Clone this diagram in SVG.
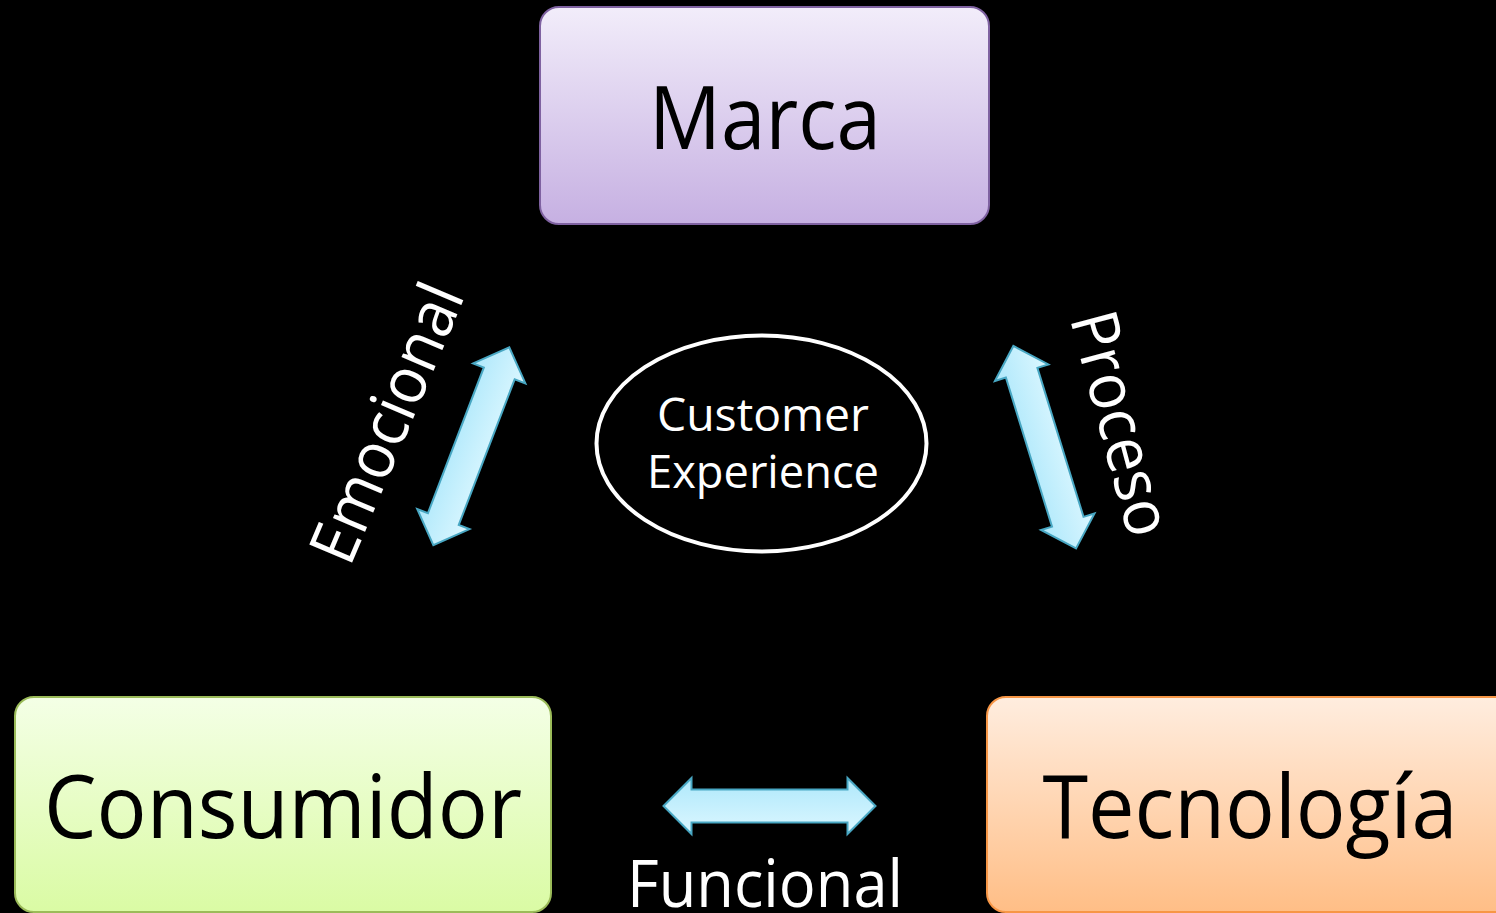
<svg xmlns="http://www.w3.org/2000/svg" width="1496" height="913" viewBox="0 0 1496 913">
  <defs>
    <linearGradient id="gPurple" x1="0" y1="0" x2="0" y2="1">
      <stop offset="0" stop-color="#f2edfa"/>
      <stop offset="1" stop-color="#c6b0e2"/>
    </linearGradient>
    <linearGradient id="gGreen" x1="0" y1="0" x2="0" y2="1">
      <stop offset="0" stop-color="#f4ffe6"/>
      <stop offset="1" stop-color="#dafba4"/>
    </linearGradient>
    <linearGradient id="gOrange" x1="0" y1="0" x2="0" y2="1">
      <stop offset="0" stop-color="#ffeddf"/>
      <stop offset="1" stop-color="#ffbe86"/>
    </linearGradient>
    <linearGradient id="gArrow" x1="0" y1="0" x2="0" y2="1">
      <stop offset="0" stop-color="#aee8fb"/>
      <stop offset="1" stop-color="#dcf7ff"/>
    </linearGradient>
    <path id="dblArrow" d="M -106 0 L -78 -28 L -78 -16.5 L 78 -16.5 L 78 -28 L 106 0 L 78 28 L 78 16.5 L -78 16.5 L -78 28 Z"/>
  </defs>
  <style>
    .box { stroke-width: 2; }
    .big { font-family: "Open Sans", "Noto Sans", sans-serif; font-size: 88px; fill: #000; text-anchor: middle; }
    .lbl { font-family: "Open Sans", "Noto Sans", sans-serif; font-size: 65px; fill: #fff; }
    .cx { font-family: "Open Sans", "Noto Sans", sans-serif; font-size: 46px; fill: #fff; text-anchor: middle; }
    .arr { fill: url(#gArrow); stroke: #48a7c3; stroke-width: 2; stroke-linejoin: miter; }
  </style>
  <rect x="0" y="0" width="1496" height="913" fill="#000"/>

  <g id="marca">
    <rect class="box" x="540" y="7" width="449" height="217" rx="19" fill="url(#gPurple)" stroke="#7f62a1"/>
    <text class="big" x="765" y="149" textLength="232" lengthAdjust="spacingAndGlyphs">Marca</text>
  </g>

  <g id="consumidor">
    <rect class="box" x="15" y="697" width="536" height="215" rx="19" fill="url(#gGreen)" stroke="#9bbb59"/>
    <text class="big" x="283" y="838" textLength="478" lengthAdjust="spacingAndGlyphs">Consumidor</text>
  </g>

  <g id="tecnologia">
    <rect class="box" x="987" y="697" width="536" height="215" rx="19" fill="url(#gOrange)" stroke="#f79646"/>
    <text class="big" x="1250" y="838" textLength="415" lengthAdjust="spacingAndGlyphs">Tecnología</text>
  </g>

  <g id="customer-experience">
    <ellipse cx="761.5" cy="443.5" rx="165" ry="108" fill="none" stroke="#fff" stroke-width="4"/>
    <text class="cx" x="763" y="431" textLength="212" lengthAdjust="spacingAndGlyphs">Customer</text>
    <text class="cx" x="763" y="488" textLength="232" lengthAdjust="spacingAndGlyphs">Experience</text>
  </g>

  <g id="connectors">
    <use href="#dblArrow" class="arr" transform="translate(471.3,446.2) rotate(-69)"/>
    <use href="#dblArrow" class="arr" transform="translate(1044.7,447.2) rotate(-107.2)"/>
    <use href="#dblArrow" class="arr" transform="translate(769.5,806)"/>
  </g>

  <g id="labels">
    <text class="lbl" transform="translate(351.7,563.3) rotate(-67)" x="-5" y="0" textLength="296" lengthAdjust="spacingAndGlyphs">Emocional</text>
    <text class="lbl" transform="translate(1071,323) rotate(75)" x="-5" y="0" textLength="230" lengthAdjust="spacingAndGlyphs">Proceso</text>
    <text class="lbl" x="627" y="907" textLength="276" lengthAdjust="spacingAndGlyphs">Funcional</text>
  </g>
</svg>
